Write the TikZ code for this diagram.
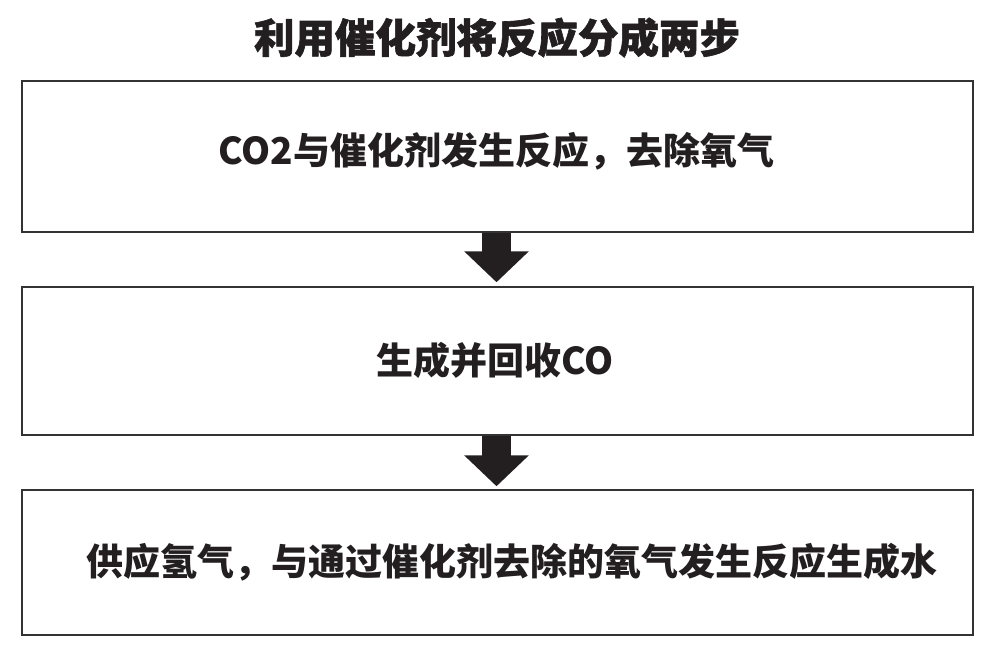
\documentclass[tikz,border=0pt]{standalone}
\usepackage{fontspec}
\newfontfamily\cjk{Noto Sans CJK SC}
\newfontfamily\cjkheavy{Noto Sans CJK SC}[BoldFeatures={FakeBold=1.5}]
\usetikzlibrary{arrows.meta}
\definecolor{ink}{HTML}{231F20}
\definecolor{edge}{HTML}{333333}
\tikzset{
  stepbox/.style={draw=edge, line width=1.5pt, fill=white, minimum width=951pt, inner sep=0pt, rectangle},
  steptext/.style={anchor=base, inner sep=0pt, text=ink, font=\cjk\bfseries\fontsize{37}{44}\selectfont},
  titletext/.style={anchor=base, inner sep=0pt, text=ink, font=\cjkheavy\bfseries\fontsize{40.5}{48}\selectfont},
  blockarrow/.style={draw=ink, line width=29pt, -{Triangle[width=63pt,length=31pt]}, ink}
}
\begin{document}
\begin{tikzpicture}[x=1pt,y=-1pt]
\useasboundingbox (0,0) rectangle (993,653);
\fill[white] (0,0) rectangle (993,653);
\node[titletext] (title) at (497,53) {利用催化剂将反应分成两步};
\node[stepbox, minimum height=151pt] (b1) at (497.5,156.5) {};
\node[stepbox, minimum height=148pt] (b2) at (497.5,361) {};
\node[stepbox, minimum height=145pt] (b3) at (497.5,562.5) {};
\node[steptext] (t1) at (496.5,164) {CO2与催化剂发生反应，去除氧气};
\node[steptext] (t2) at (495,374) {生成并回收CO};
\node[steptext] (t3) at (512,575) {供应氢气，与通过催化剂去除的氧气发生反应生成水};
\draw[blockarrow, shorten >=4pt] ([xshift=-1pt]b1.south) -- ([xshift=-1pt]b2.north);
\draw[blockarrow, shorten >=3pt] ([xshift=-1pt]b2.south) -- ([xshift=-1pt]b3.north);
\end{tikzpicture}
\end{document}
